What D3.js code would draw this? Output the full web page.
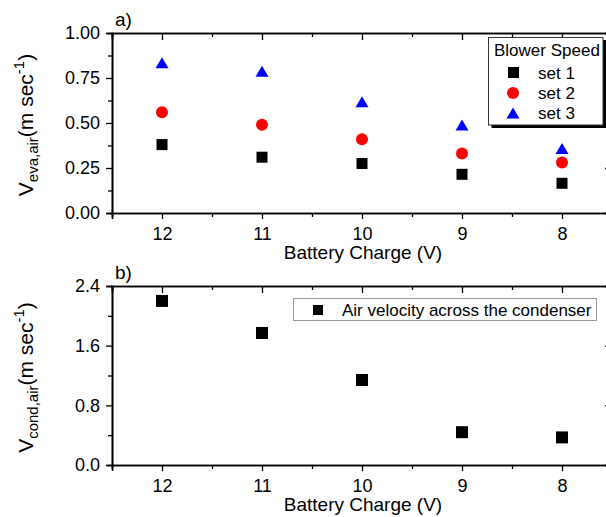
<!DOCTYPE html>
<html><head><meta charset="utf-8">
<script src="https://cdn.jsdelivr.net/npm/d3@7"></script>
<style>
html,body{margin:0;padding:0;background:#fff;}
svg{display:block;font-family:"Liberation Sans",Arial,sans-serif;}
</style></head>
<body><svg id="c" width="606" height="517"></svg>
<script>
const categories = [12, 11, 10, 9, 8];
const set1 = [0.38, 0.31, 0.275, 0.215, 0.165];
const set2 = [0.56, 0.49, 0.41, 0.33, 0.28];
const set3 = [0.835, 0.787, 0.618, 0.489, 0.359];
const condenser = [2.20, 1.77, 1.14, 0.44, 0.37];
const xMajor = [12, 11, 10, 9, 8];
const xMinor = [12.5, 11.5, 10.5, 9.5, 8.5, 7.5];
const yMajorA = [0, 0.25, 0.5, 0.75, 1.0];
const yMinorA = [0.125, 0.375, 0.625, 0.875];
const yMajorB = [0, 0.8, 1.6, 2.4];
const yMinorB = [0.4, 1.2, 2.0];
const legendA = ["set 1", "set 2", "set 3"];
const legendB = ["Air velocity across the condenser"];

const svg = d3.select("#c");
const L = 112, R = 612;
const x = d3.scaleLinear().domain([12.5, 7.5]).range([L, R]);

function panel(top, bottom, yDomain, yMajor, yMinor, fmt, label, sub) {
  const y = d3.scaleLinear().domain(yDomain).range([bottom, top]);
  const g = svg.append("g");
  const tickFont = "18px";
  g.append("g").attr("transform", `translate(0,${bottom})`)
    .call(d3.axisBottom(x).tickValues(xMajor).tickSize(6).tickPadding(8).tickFormat(d3.format("d")));
  g.append("g").attr("transform", `translate(0,${bottom})`)
    .call(d3.axisBottom(x).tickValues(xMinor).tickSize(4).tickFormat(""));
  g.append("g").attr("transform", `translate(0,${top})`)
    .call(d3.axisTop(x).tickValues(xMajor).tickSize(-7).tickFormat(""));
  g.append("g").attr("transform", `translate(0,${top})`)
    .call(d3.axisTop(x).tickValues(xMinor).tickSize(-4).tickFormat(""));
  g.append("g").attr("transform", `translate(${L},0)`)
    .call(d3.axisLeft(y).tickValues(yMajor).tickSize(6).tickPadding(6).tickFormat(d3.format(fmt)));
  g.append("g").attr("transform", `translate(${L},0)`)
    .call(d3.axisLeft(y).tickValues(yMinor).tickSize(4).tickFormat(""));
  g.append("g").attr("transform", `translate(${R},0)`)
    .call(d3.axisRight(y).tickValues(yMajor).tickSize(-7).tickFormat(""));
  g.append("g").attr("transform", `translate(${R},0)`)
    .call(d3.axisRight(y).tickValues(yMinor).tickSize(-4).tickFormat(""));
  g.selectAll(".domain").attr("stroke", "#000").attr("stroke-width", 1.6);
  g.selectAll(".tick line").attr("stroke", "#000").attr("stroke-width", 1.3);
  g.selectAll(".tick text").attr("font-size", tickFont).attr("fill", "#000")
    .attr("font-family", '"Liberation Sans",Arial,sans-serif');
  g.append("text").attr("x", L + 3).attr("y", top - 7).attr("font-size", "19px").attr("fill", "#000").text(label);
  g.append("text").attr("x", (L + R) / 2 + 1).attr("y", bottom + 46).attr("text-anchor", "middle")
    .attr("font-size", "19px").attr("fill", "#000").text("Battery Charge (V)");
  const yt = g.append("text").attr("transform", `translate(33,${(top + bottom) / 2 + 2}) rotate(-90)`)
    .attr("text-anchor", "middle").attr("font-size", "21px").attr("fill", "#000");
  yt.append("tspan").text("V");
  yt.append("tspan").attr("font-size", "15px").attr("dy", 5).text(sub);
  yt.append("tspan").attr("dy", -5).text("(m sec");
  yt.append("tspan").attr("font-size", "15px").attr("dy", -9).text("-1");
  yt.append("tspan").attr("dy", 9).text(")");
  return {g, y};
}

const A = panel(33, 213, [0, 1], yMajorA, yMinorA, ".2f", "a)", "eva,air");
const B = panel(286, 465, [0, 2.4], yMajorB, yMinorB, ".1f", "b)", "cond,air");

function tri(w, h) { return `M0,${-h/2}L${w/2},${h/2}L${-w/2},${h/2}Z`; }

A.g.append("g").selectAll("rect").data(categories.map((c, i) => [c, set1[i]])).join("rect")
  .attr("x", d => x(d[0]) - 5.5).attr("y", d => A.y(d[1]) - 5.5).attr("width", 11).attr("height", 11).attr("fill", "#000");
A.g.append("g").selectAll("circle").data(categories.map((c, i) => [c, set2[i]])).join("circle")
  .attr("cx", d => x(d[0])).attr("cy", d => A.y(d[1])).attr("r", 6).attr("fill", "#f00");
A.g.append("g").selectAll("path").data(categories.map((c, i) => [c, set3[i]])).join("path")
  .attr("transform", d => `translate(${x(d[0])},${A.y(d[1])})`).attr("d", tri(13, 11)).attr("fill", "#00f");

B.g.append("g").selectAll("rect").data(categories.map((c, i) => [c, condenser[i]])).join("rect")
  .attr("x", d => x(d[0]) - 6).attr("y", d => B.y(d[1]) - 6).attr("width", 12).attr("height", 12).attr("fill", "#000");

const la = svg.append("g");
la.append("rect").attr("x", 491.5).attr("y", 40).attr("width", 115).attr("height", 88).attr("fill", "#000");
la.append("rect").attr("x", 488.5).attr("y", 37.5).attr("width", 114.5).attr("height", 87.5)
  .attr("fill", "#fff").attr("stroke", "#333").attr("stroke-width", 1);
la.append("text").attr("x", 494).attr("y", 56).attr("font-size", "17px").attr("fill", "#000").text("Blower Speed");
const ly = [72.5, 93, 113];
la.append("rect").attr("x", 508).attr("y", ly[0] - 5.5).attr("width", 11).attr("height", 11).attr("fill", "#000");
la.append("circle").attr("cx", 513).attr("cy", ly[1]).attr("r", 6).attr("fill", "#f00");
la.append("path").attr("transform", `translate(513,${ly[2]})`).attr("d", tri(13, 11)).attr("fill", "#00f");
la.selectAll("text.item").data(legendA).join("text").attr("class", "item")
  .attr("x", 538).attr("y", (d, i) => ly[i] + 6).attr("font-size", "17px").attr("fill", "#000").text(d => d);

const lb = svg.append("g");
lb.append("rect").attr("x", 293.5).attr("y", 298.5).attr("width", 303).attr("height", 22)
  .attr("fill", "#fff").attr("stroke", "#999").attr("stroke-width", 1);
lb.append("rect").attr("x", 313).attr("y", 305).attr("width", 10).attr("height", 10).attr("fill", "#000");
lb.append("text").attr("x", 342).attr("y", 316).attr("font-size", "17px").attr("fill", "#000").text(legendB[0]);
</script></body></html>
